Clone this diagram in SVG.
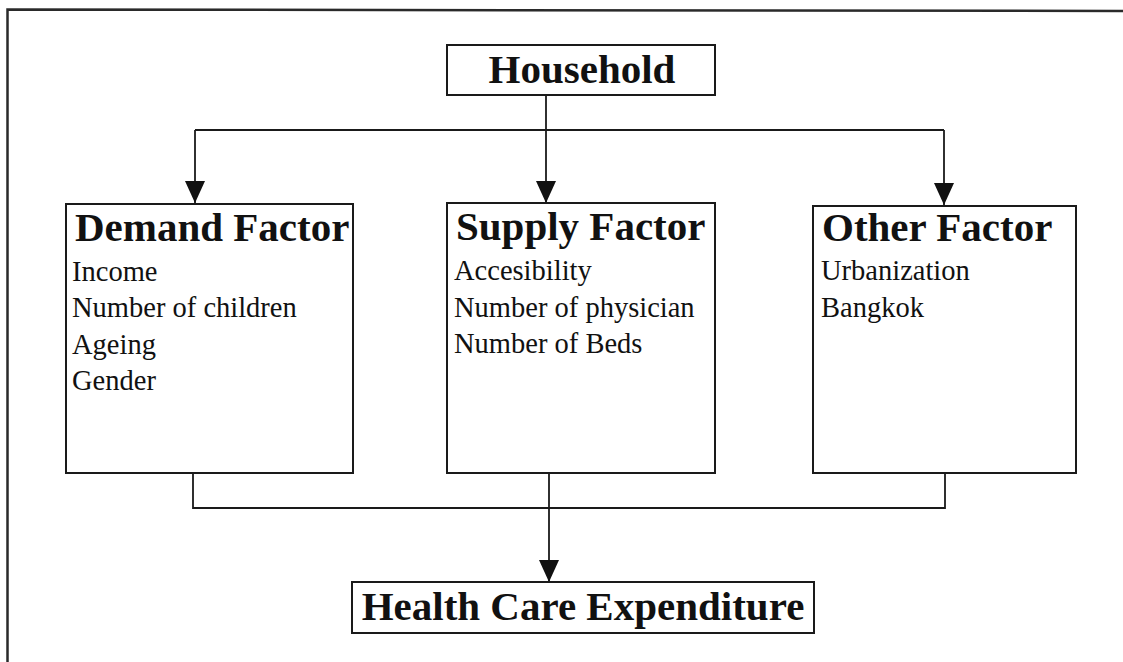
<svg xmlns="http://www.w3.org/2000/svg" width="1123" height="662" viewBox="0 0 1123 662">
  <style>
    .box { fill: #ffffff; stroke: #1a1a1a; stroke-width: 2; }
    .title { font-family: "Liberation Serif", "Times New Roman", serif; font-weight: bold; font-size: 41px; fill: #111111; }
    .item { font-family: "Liberation Serif", "Times New Roman", serif; font-size: 28.5px; fill: #111111; }
    .wire { fill: none; stroke: #1a1a1a; stroke-width: 1.8; }
  </style>
  <defs>
    <!-- solid downward arrowhead, tip at the line end -->
    <marker id="arrowDown" markerUnits="userSpaceOnUse" markerWidth="20" markerHeight="22" viewBox="0 0 20 22" refX="10" refY="22" orient="0">
      <path d="M0,0 L20,0 L10,22 Z" fill="#111111"/>
    </marker>
  </defs>

  <rect x="0" y="0" width="1123" height="662" fill="#ffffff"/>

  <!-- outer frame: top and left edges only -->
  <path d="M7.5,662 L7.5,9.5 L1123,11" fill="none" stroke="#2a2a2a" stroke-width="2.5"/>

  <g id="connectors">
    <!-- household to the three factor groups -->
    <path class="wire" d="M546,95 L546,203" marker-end="url(#arrowDown)"/>
    <path class="wire" d="M195,130 L944,130"/>
    <path class="wire" d="M195,130 L195,203" marker-end="url(#arrowDown)"/>
    <path class="wire" d="M944,130 L944,205" marker-end="url(#arrowDown)"/>
    <!-- factor groups to expenditure -->
    <path class="wire" d="M193,473 L193,508 L945,508 L945,473"/>
    <path class="wire" d="M549,473 L549,582" marker-end="url(#arrowDown)"/>
  </g>

  <g id="household">
    <rect class="box" x="447" y="45" width="268" height="50"/>
    <text class="title" x="582" y="83" text-anchor="middle">Household</text>
  </g>

  <g id="demand-factor">
    <rect class="box" x="66" y="204" width="287" height="269"/>
    <text class="title" x="75" y="241">Demand Factor</text>
    <text class="item" x="72" y="281">Income</text>
    <text class="item" x="72" y="317">Number of children</text>
    <text class="item" x="72" y="354">Ageing</text>
    <text class="item" x="72" y="390">Gender</text>
  </g>

  <g id="supply-factor">
    <rect class="box" x="447" y="203" width="268" height="270"/>
    <text class="title" x="456" y="240">Supply Factor</text>
    <text class="item" x="454" y="280">Accesibility</text>
    <text class="item" x="454" y="317">Number of physician</text>
    <text class="item" x="454" y="353">Number of Beds</text>
  </g>

  <g id="other-factor">
    <rect class="box" x="813" y="206" width="263" height="267"/>
    <text class="title" x="822" y="241">Other Factor</text>
    <text class="item" x="821" y="280">Urbanization</text>
    <text class="item" x="821" y="317">Bangkok</text>
  </g>

  <g id="health-care-expenditure">
    <rect class="box" x="352" y="582" width="462" height="51"/>
    <text class="title" x="583" y="620" text-anchor="middle">Health Care Expenditure</text>
  </g>
</svg>
